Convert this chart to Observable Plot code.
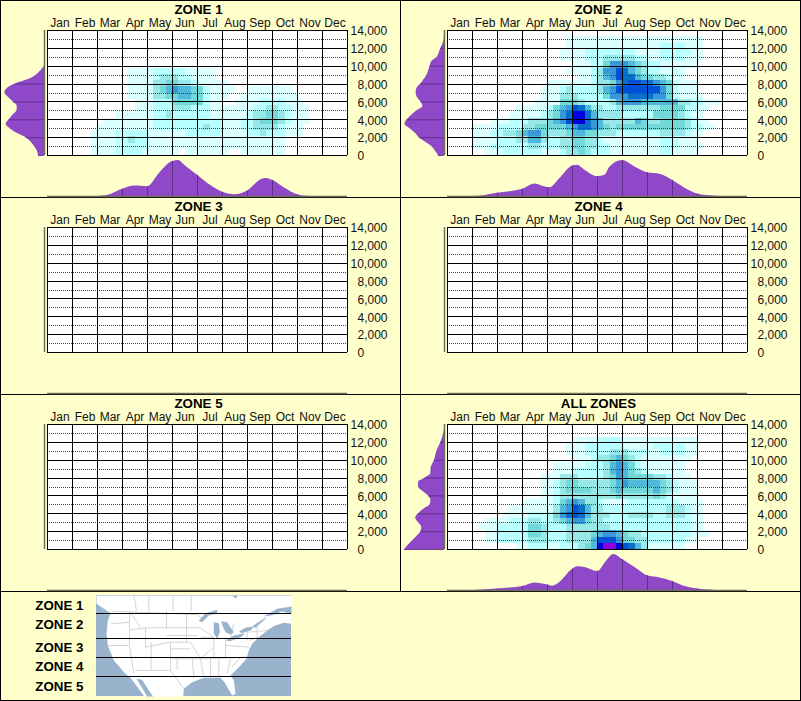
<!DOCTYPE html>
<html>
<head>
<meta charset="utf-8">
<script src="https://cdn.jsdelivr.net/npm/d3@7"></script>
<script src="https://cdn.jsdelivr.net/npm/@observablehq/plot@0.6"></script>
<style>
html,body{margin:0;padding:0;background:#ffffcc;}
#root{position:relative;width:801px;height:701px;background:#ffffcc;overflow:hidden;font-family:"Liberation Sans",Arial,sans-serif;}
.box{position:absolute;border:1px solid #000;box-sizing:border-box;}
.layer{position:absolute;}
.layer svg{background:transparent;overflow:visible;display:block;}
</style>
</head>
<body>
<div id="root"></div>
<script>
const months = ["Jan","Feb","Mar","Apr","May","Jun","Jul","Aug","Sep","Oct","Nov","Dec"];
const elevTicks = [0,2000,4000,6000,8000,10000,12000,14000];
const elevDotted = [1000,3000,5000,7000,9000,11000,13000];
const monthEdges = [0,1,2,3,4,5,6,7,8,9,10,11,12];
const zoneNames = ["ZONE 1","ZONE 2","ZONE 3","ZONE 4","ZONE 5"];
const levelKeys = ["1","2","3","4","5","6","7","8","9","a"];
const levelColors = ["#dcffff","#b8ffff","#98e8e8","#72d8d8","#50b8d8","#3898d8","#0870c8","#0050d8","#0000e0","#9000d8"];

// heat cells: [row (700 ft each), first column (quarter month), levels]
const zone1Heat = [
 [13,13,"11112222211111"],
 [12,13,"11112333221111"],
 [11,13,"1111334433211111"],
 [10,13,"11113456554421111001111111"],
 [9,13,"111133445544211100111111111"],
 [8,14,"111222444442110011112222111"],
 [7,14,"1112223332221111111223322111"],
 [6,11,"1111112232222221111112334432111"],
 [5,9,"111111112222222222211122344432111"],
 [4,8,"111111111222222223221112233332111"],
 [3,7,"1111222221111112222221111223222111"],
 [2,7,"1111223221111111111111111111111"],
 [1,7,"1111222221111111111111111111111"],
 [0,7,"1111222211111101111111001111111"]
];
const zone2Heat = [
 [18,19,"1111111111111111111111"],
 [17,19,"1111111111111112222111"],
 [16,18,"11112222222211112222211"],
 [15,18,"11112223333322112222111"],
 [14,20,"111224666543221111 11"],
 [13,19,"111123668754322112 1"],
 [12,21,"1123568775443321 1"],
 [11,16,"1111111233467887765421 11"],
 [10,15,"111232222356888888864 2111"],
 [9,15,"111333222246667777664211 11"],
 [8,14,"1111444322223566655555533 22111"],
 [7,11,"1111124568 753322333333344442 21 1"],
 [6,10,"1111123467 99753333222224444321 1"],
 [5,7,"1112223334568 99765 33333 54334444 32 11"],
 [4,4,"11112222 33 44 444 5 6 7 7 6 5 4 3 44444444444 3 22 11"],
 [3,4,"111 22 33 4 5 66 4 333 4 55 44 333 222 2222 33 33 2 1 1"],
 [2,4,"1111 222 33 55 3 22 33 44 33 2 111111111 222 111"],
 [1,4,"111 222222 33 222 33 44 33 22 11111111 222 1111"],
 [0,6,"111 222222 111 2 33 4 3 2 22 11111111 22 1111"]
];
const zoneAllHeat = [
 [17,20,"1111 2222 111111111111"],
 [16,19,"111 22 2222 11 1 11 22222 11"],
 [15,19,"111 22 22 33 3 2 22 11 2222 11"],
 [14,20,"111 2 3 3 4 5 4 3 2 111 11111"],
 [13,17,"11111 2 2 2 3 5 6 5 4 2 1111111"],
 [12,17,"111 22 22 2 3 5 6 5 4 3 2 111111"],
 [11,15,"111 33 3 22 2 2 3 4 6 5 4 44 4 3 3 2 111"],
 [10,15,"11 2 3 44 33 3 3 3 4 5 6 5555 5 4 3 2 111"],
 [9,15,"11 2 3 4444 33 3 4 5 4 4444 5 4 3 2 111"],
 [8,15,"11 2 33333333 3 4 3 3333 4 3 2 1111"],
 [7,12,"11111 2 4 5 6 5 3 3 2 1111 22222222 1111"],
 [6,10,"1111111 3 5 6 8 7 5 3 3 22222222 22 333 2 11"],
 [5,9,"1111 222 2 4 6 7 8 7 5 3 3 3 222 3333 22 333 2 11"],
 [4,6,"1111 2 22 33 22 3 4 5 6 6 4 3 3 2222222 2222222 11"],
 [3,5,"111 22222 44 3 222 33333 33 222222222 2222 11"],
 [2,6,"11 22222 44 3 222 33 33 4 5 66 5 4 3 3 2222 2222 111"],
 [1,6,"11 22222 33 3 222 33 33 5 888 6 44 33 222222 11"],
 [0,11,"11 222 11 222 3 4 5 9 aa 9 8 7 5 3 111111"]
];

// side profile by month: [month, share of tallest peak]
const zone1Months = [[2,0],[2.5,.05],[3,.2],[3.5,.29],[4,.27],[4.5,.66],[5,.97],[5.25,1],[5.5,.86],[6,.59],[6.5,.32],[7,.12],[7.5,.05],[8,.15],[8.25,.3],[8.5,.45],[8.75,.5],[9,.45],[9.5,.23],[10,.05],[10.5,0]];
const zone2Months = [[1,0],[1.5,.03],[2,.09],[2.5,.13],[3,.2],[3.5,.35],[4,.25],[4.1,.245],[4.5,.5],[5,.85],[5.2,.87],[5.5,.73],[6,.55],[6.3,.59],[6.5,.82],[7,1],[7.5,.82],[8,.66],[8.5,.62],[9,.45],[9.5,.23],[10,.07],[10.5,.02],[11,0]];
const zoneAllMonths = [[1,0],[2,.045],[2.5,.07],[3,.11],[3.5,.21],[4,.155],[4.2,.12],[4.5,.23],[5,.59],[5.2,.66],[5.5,.64],[6,.53],[6.4,.85],[6.65,1],[7,.86],[7.5,.64],[8,.41],[8.5,.35],[9,.25],[9.5,.11],[10,.045],[11,0]];

// side profile by elevation: [feet, share of tallest peak]
const zone1Elev = [[0,.15],[500,.18],[1000,.25],[1500,.34],[2000,.46],[2500,.69],[3000,.86],[3500,.96],[4000,.88],[4500,.79],[5000,.69],[5500,.68],[6000,.78],[6500,.9],[7000,.99],[7500,.93],[8000,.73],[8500,.4],[9000,.21],[9500,.09],[10000,0]];
const zone2Elev = [[0,.15],[500,.23],[1000,.32],[1500,.48],[2000,.63],[2500,.73],[3000,.86],[3500,.99],[4000,.93],[4500,.82],[5000,.69],[5500,.54],[6000,.59],[6500,.68],[7000,.71],[7500,.69],[8000,.59],[8500,.51],[9000,.44],[10000,.36],[10500,.32],[11000,.18],[11500,.13],[12000,.09],[12500,.04],[13000,.01],[13500,0]];
const zoneAllElev = [[0,1],[500,.9],[1000,.79],[1500,.68],[2000,.59],[2500,.57],[3000,.65],[3500,.72],[4000,.65],[4500,.52],[5000,.36],[5500,.34],[6000,.4],[6500,.54],[7000,.65],[7500,.65],[8000,.48],[8500,.34],[9000,.34],[10000,.25],[11000,.19],[12000,.09],[13000,.02],[13500,0]];

// base map, in map units
const mapLand = [[288,15],[873,15],[873,100],[850,97],[822,106],[800,120],[775,140],[755,160],[745,180],[738,205],[715,230],[690,255],[700,270],[705,310],[695,315],[672,275],[660,262],[610,262],[575,275],[550,295],[548,318],[432,318],[390,262],[375,250],[340,210],[322,165],[318,130],[322,90],[330,68],[310,55],[288,40]];
const mapGulf = [[790,78],[830,55],[873,48],[873,72],[845,62],[815,74]];
const mapHudson = [[695,15],[712,15],[706,24]];
const mapBaja = [[408,265],[425,268],[445,300],[458,318],[440,318]];
const mapLakes = [
 [[595,90],[615,68],[650,58],[650,68],[625,75],[605,95]],
 [[640,95],[655,98],[658,125],[650,145],[640,130]],
 [[662,92],[680,95],[700,125],[690,132],[675,125],[668,110]],
 [[676,150],[700,135],[735,128],[720,140],[688,152]],
 [[716,122],[735,112],[760,108],[750,120],[722,128]],
 [[755,108],[790,85],[800,80],[765,112]]
];
const mapBorders = [
 [330,62,590,72],[590,72,610,88],[445,15,445,62],[518,15,518,62],[572,15,572,62],[400,15,408,60],
 [387,62,387,118],[387,118,435,112],[435,112,435,170],[435,170,510,155],[498,62,498,112],[420,110,387,62],
 [558,72,558,155],[498,112,600,112],[498,135,590,135],[510,155,570,155],[435,112,498,112],[330,100,387,95],[322,165,387,165],
 [387,95,387,165],[387,165,400,250],[452,155,452,240],[510,155,510,240],[405,240,510,240],[510,205,620,205],[570,155,600,205],
 [620,205,738,200],[600,112,640,140],[640,140,640,200],[675,145,675,200],[675,165,745,170],[600,140,640,140],
 [630,205,630,262],[655,205,655,262],[690,205,680,250],[600,205,610,262],[700,100,690,140],[770,95,770,140],[745,150,775,140],
 [510,240,550,295],[530,205,530,240],[510,175,570,175],[575,205,580,262],[640,170,600,205],[720,200,695,230],[740,110,740,150],[745,125,800,120]
];
const mapZoneLines = [70,143,200,259];
const labelY = [46,103,171,228,288];
const labelX = 249;

const purple = "#8e48c8";
const tick = "#5a2d82";
const edge = "#6e6e58";
const sansFont = '"Liberation Sans",Arial,sans-serif';
const fontStyle = {fontFamily:sansFont,fontSize:"12px",background:"transparent",overflow:"visible"};
const root = document.getElementById("root");

function addLayer(node,left,top){
  const d=document.createElement("div");d.className="layer";
  d.style.left=left+"px";d.style.top=top+"px";d.appendChild(node);root.appendChild(d);
}
function addBox(left,top,w,h){
  const d=document.createElement("div");d.className="box";
  d.style.left=left+"px";d.style.top=top+"px";d.style.width=w+"px";d.style.height=h+"px";root.appendChild(d);
}
function cellsOf(heat){
  const out=[];
  for(const [r,start,raw] of heat){
    [...raw.replace(/ /g,"")].forEach((ch,i)=>{
      if(ch!=="0") out.push({m1:(start+i)/4,m2:(start+i+1)/4,e1:r*700,e2:(r+1)*700,level:ch});
    });
  }
  return out;
}
function mainPlot(title,heat){
  return Plot.plot({
    width:400,height:196,marginLeft:47,marginRight:53,marginTop:30,marginBottom:41,
    style:fontStyle,
    x:{domain:[0,12],axis:null},
    y:{domain:[0,14000],axis:null},
    color:{type:"ordinal",domain:levelKeys,range:levelColors},
    marks:[
      Plot.rect([0],{x1:0,x2:12,y1:0,y2:14000,fill:"#fff"}),
      Plot.rect(cellsOf(heat),{x1:"m1",x2:"m2",y1:"e1",y2:"e2",fill:"level",shapeRendering:"crispEdges"}),
      Plot.ruleY(elevDotted,{stroke:"#444",strokeDasharray:"1,1",shapeRendering:"crispEdges"}),
      Plot.ruleY(elevTicks,{stroke:"#000",shapeRendering:"crispEdges"}),
      Plot.ruleX(monthEdges,{stroke:"#000",shapeRendering:"crispEdges"}),
      Plot.text(months,{x:(d,i)=>i+0.5,y:()=>14000,text:d=>d,dy:-7,fill:"#111",fontSize:12}),
      Plot.text(elevTicks.filter(d=>d>=10000),{x:()=>12,y:d=>d,text:d=>d3.format(",")(d),textAnchor:"start",dx:3,dy:1,fill:"#111",fontSize:12}),
      Plot.text(elevTicks.filter(d=>d<10000),{x:()=>12,y:d=>d,text:d=>d3.format(",")(d),textAnchor:"start",dx:10,dy:1,fill:"#111",fontSize:12}),
      Plot.text([title],{x:()=>6,y:()=>14000,text:d=>d,dx:1,dy:-21,fontWeight:"bold",fontSize:13.33,fill:"#000"})
    ]
  });
}
function lerp(pairs,x){
  for(let i=1;i<pairs.length;i++){
    if(x<=pairs[i][0]&&x>=pairs[i-1][0]){
      const [a,u]=pairs[i-1],[b,v]=pairs[i];
      return u+(v-u)*(x-a)/(b-a);
    }
  }
  return 0;
}
function bottomPlot(pairs){
  const edges = pairs.length? monthEdges.filter(m=>lerp(pairs,m)>0):[];
  return Plot.plot({
    width:400,height:37,marginLeft:47,marginRight:53,marginTop:0,marginBottom:1,
    style:fontStyle,
    x:{domain:[0,12],axis:null},
    y:{domain:[0,1],axis:null},
    marks:[
      Plot.areaY(pairs,{x:d=>d[0],y:d=>d[1],fill:purple,curve:"monotone-x"}),
      Plot.ruleX(edges,{x:d=>d,y1:()=>0,y2:d=>lerp(pairs,d),stroke:tick,strokeOpacity:.9}),
      Plot.ruleY([0],{stroke:edge,strokeWidth:1.5})
    ]
  });
}
function leftPlot(pairs){
  const edges = pairs.length? elevTicks.filter(e=>lerp(pairs,e)>0):[];
  return Plot.plot({
    width:47,height:125,marginLeft:4,marginRight:3,marginTop:0,marginBottom:0,
    style:fontStyle,
    x:{domain:[1,0],axis:null},
    y:{domain:[0,14000],axis:null},
    marks:[
      Plot.areaX(pairs,{y:d=>d[0],x:d=>d[1],fill:purple,curve:"monotone-y"}),
      Plot.ruleY(edges,{y:d=>d,x1:()=>0,x2:d=>lerp(pairs,d),stroke:tick,strokeOpacity:.9}),
      Plot.ruleX([0],{stroke:edge,strokeWidth:1.5})
    ]
  });
}
const panels = [
  {title:"ZONE 1",left:0,top:0,heat:zone1Heat,mons:zone1Months,elev:zone1Elev},
  {title:"ZONE 2",left:400,top:0,heat:zone2Heat,mons:zone2Months,elev:zone2Elev},
  {title:"ZONE 3",left:0,top:197,heat:[],mons:[],elev:[]},
  {title:"ZONE 4",left:400,top:197,heat:[],mons:[],elev:[]},
  {title:"ZONE 5",left:0,top:394,heat:[],mons:[],elev:[]},
  {title:"ALL ZONES",left:400,top:394,heat:zoneAllHeat,mons:zoneAllMonths,elev:zoneAllElev}
];
addBox(0,0,801,701);
addBox(0,0,401,198);addBox(400,0,401,198);
addBox(0,197,401,198);addBox(400,197,401,198);
addBox(0,394,401,198);addBox(400,394,401,198);

for(const p of panels){
  addLayer(mainPlot(p.title,p.heat),p.left,p.top);
  addLayer(bottomPlot(p.mons),p.left,p.top+160);
  addLayer(leftPlot(p.elev),p.left,p.top+30);
}

const water = "#9ab3cd";
const mapPlot = Plot.plot({
  width:295,height:108,marginLeft:0,marginRight:0,marginTop:0,marginBottom:0,
  style:fontStyle,
  x:{domain:[0,885],axis:null},
  y:{domain:[327,3],axis:null},
  marks:[
    Plot.rect([0],{x1:288,x2:873,y1:15,y2:318,fill:water}),
    Plot.line(mapLand.concat([mapLand[0]]),{x:d=>d[0],y:d=>d[1],fill:"#fff",stroke:"none"}),
    Plot.link(mapBorders,{x1:d=>d[0],y1:d=>d[1],x2:d=>d[2],y2:d=>d[3],stroke:"#d4d4d4",strokeWidth:1}),
    ...[mapBaja,mapGulf,mapHudson,...mapLakes].map(l=>Plot.line(l,{x:d=>d[0],y:d=>d[1],fill:water,stroke:"none"})),
    Plot.ruleY(mapZoneLines,{x1:()=>288,x2:()=>873,stroke:"#000",shapeRendering:"crispEdges"}),
    Plot.text(zoneNames,{x:()=>labelX,y:(d,i)=>labelY[i],text:d=>d,textAnchor:"end",fontWeight:"bold",fontSize:13.33,fill:"#000"})
  ]
});
addLayer(mapPlot,0,591);
</script>
</body>
</html>
